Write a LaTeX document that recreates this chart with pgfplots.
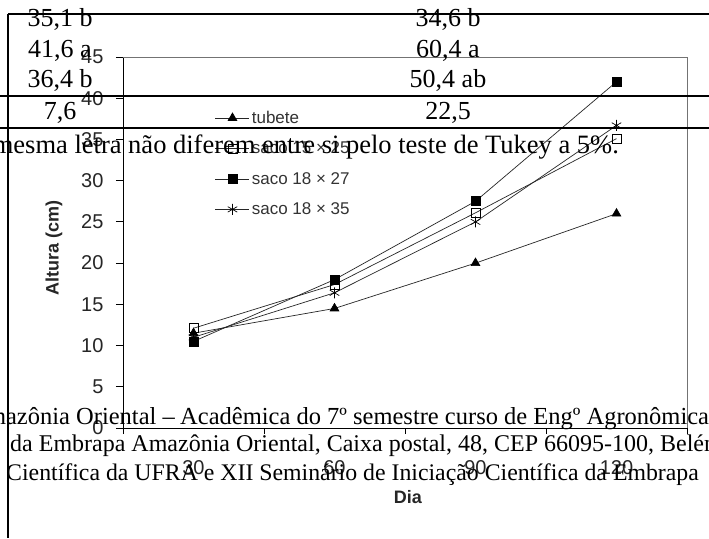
\documentclass[border=0pt]{standalone}
\usepackage{fontspec}
\setmainfont{Liberation Serif}
\newfontfamily\arial{Liberation Sans}
\usepackage{pgfplots}
\pgfplotsset{compat=1.18}
\begin{document}
\begin{tikzpicture}[x=1pt,y=1pt]
\useasboundingbox (0,0) rectangle (709,538);
\clip (0,0) rectangle (709,538);
\fill[white] (0,0) rectangle (709,538);
\begin{axis}[
  at={(123pt,110pt)}, anchor=south west,
  scale only axis, width=564pt, height=371pt,
  xmin=0.5, xmax=4.5, ymin=0, ymax=45,
  xtick={1,2,3,4}, xticklabels={30,60,90,120},
  minor xtick={0.5,1.5,2.5,3.5,4.5},
  ytick={0,5,...,45},
  axis x line*=bottom, axis y line*=left,
  axis line style={black, line width=0.8pt, -},
  tick align=outside, major tick length=7pt, minor tick length=6pt,
  major x tick style={draw=none},
  minor x tick style={black, line width=0.8pt},
  y tick style={black, line width=0.8pt},
  /pgf/number format/assume math mode=true,
  tick label style={font=\arial\fontsize{20}{24}\selectfont, text=black!85},
  xticklabel style={yshift=-22pt},
  yticklabel style={xshift=-9pt},
  xlabel={Dia}, ylabel={Altura (cm)},
  xlabel style={font=\arial\bfseries\fontsize{18}{21}\selectfont, text=black!85, at={(axis description cs:0.505,-0.186)}, anchor=center},
  ylabel style={font=\arial\bfseries\fontsize{18}{21}\selectfont, text=black!85, at={(axis description cs:-0.1223,0.485)}, anchor=center},
  legend entries={tubete, saco 15 × 25, saco 18 × 27, saco 18 × 35},
  legend cell align=left,
  legend style={draw=none, fill=none, at={(axis description cs:0.163,0.86)}, anchor=north west,
    font=\arial\fontsize{17}{20}\selectfont, text=black!80, row sep=13pt, inner sep=0pt,
    nodes={inner sep=2pt}},
  legend image code/.code={\draw[mark repeat=2,mark phase=2,#1] plot coordinates {(0pt,0pt) (17pt,0pt) (34pt,0pt)};},
  clip=false
]
\addplot[black!85, line width=0.7pt, mark=triangle*, mark size=5pt, mark options={solid, fill=black, draw=black}]
  coordinates {(1,11.5) (2,14.5) (3,20) (4,26)};
\addplot[black!85, line width=0.7pt, mark=square, mark size=4.5pt, mark options={solid, draw=black}]
  coordinates {(1,12.1) (2,17.4) (3,26.1) (4,35.1)};
\addplot[black!85, line width=0.7pt, mark=square*, mark size=4.5pt, mark options={solid, fill=black, draw=black}]
  coordinates {(1,10.5) (2,18) (3,27.5) (4,42)};
\addplot[black!85, line width=0.7pt, mark=asterisk, mark size=5.5pt, mark options={solid, draw=black}]
  coordinates {(1,11) (2,16.4) (3,25) (4,36.7)};
\draw[black!55, line width=0.8pt] (rel axis cs:0,1) -- (rel axis cs:1,1) -- (rel axis cs:1,0);
\end{axis}
% overlaid document text and table rules
\begin{scope}[every node/.style={inner sep=0pt}]
\draw[black, line width=2pt] (8,524) -- (709,524);
\draw[black, line width=2pt] (0,442) -- (709,442);
\draw[black, line width=2pt] (0,410) -- (709,410);
\draw[black, line width=2pt] (8,524) -- (8,0);
\begin{scope}[every node/.append style={font=\fontsize{26}{30}\selectfont}]
\node[anchor=base] at (60,511) {35,1 b};
\node[anchor=base] at (60,480) {41,6 a};
\node[anchor=base] at (60,450) {36,4 b};
\node[anchor=base] at (60,418) {7,6};
\node[anchor=base] at (448,511) {34,6 b};
\node[anchor=base] at (448,480) {60,4 a};
\node[anchor=base] at (448,450) {50,4 ab};
\node[anchor=base] at (448,418) {22,5};
\end{scope}
\node[anchor=base east, font=\fontsize{26.5}{30}\selectfont] at (619,384) {seguidas da mesma letra não diferem entre si pelo teste de Tukey a 5\%.};
\node[anchor=base east, font=\fontsize{24.5}{28}\selectfont] at (175,113) {Embrapa Amazônia Oriental –};
\node[anchor=base west, font=\fontsize{24.5}{28}\selectfont] at (180,113) {Acadêmica do 7º semestre curso de Engº Agronômica da UFRA};
\node[anchor=base west, font=\fontsize{24}{28}\selectfont] at (10,86) {da Embrapa Amazônia Oriental, Caixa postal, 48, CEP 66095-100, Belém, PA};
\node[anchor=base east, font=\fontsize{23.8}{28}\selectfont] at (699,58) {de Iniciação Científica da UFRA e XII Seminário de Iniciação Científica da Embrapa};
\end{scope}
\end{tikzpicture}
\end{document}
